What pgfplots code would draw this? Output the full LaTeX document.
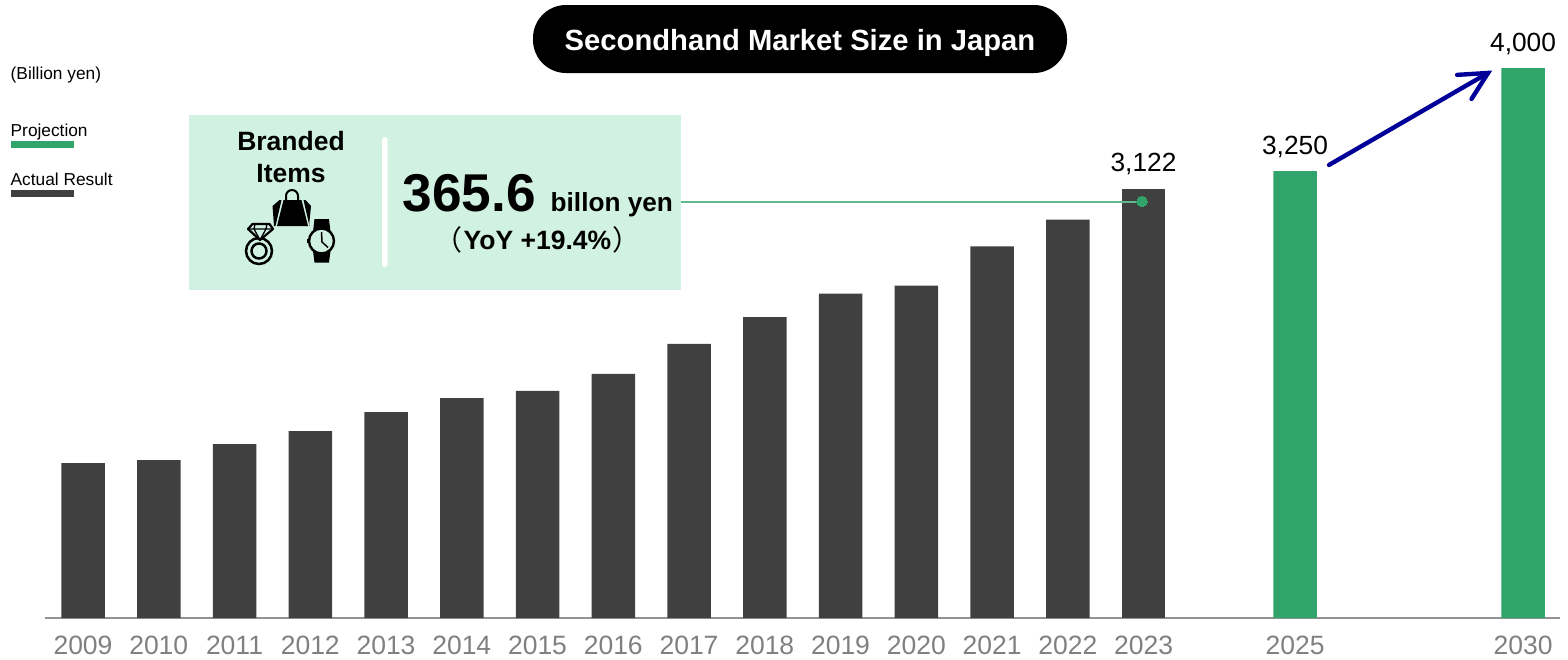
\documentclass[border=0pt]{standalone}
\usepackage{pgfplots}
\usepackage{fontspec}
\pgfplotsset{compat=1.18}
\setmainfont{Liberation Sans}
\newfontfamily\cjk{Noto Sans CJK JP}
\definecolor{barDark}{HTML}{404040}
\definecolor{barGreen}{HTML}{31A46C}
\definecolor{panelGreen}{HTML}{D1F1E3}
\definecolor{leaderGreen}{HTML}{5FB88F}
\definecolor{arrowBlue}{HTML}{000099}
\definecolor{tickGrey}{HTML}{808080}
\newcommand{\fs}[1]{\fontsize{#1}{#1}\selectfont}
\pgfplotstableread{
x y
0 1127
1 1149
2 1265
3 1360
4 1498
5 1600
6 1651
7 1775
8 1993
9 2189
10 2360
11 2418
12 2702
13 2898
}\actualbars
\begin{document}
\begin{tikzpicture}
\useasboundingbox (0,0) rectangle (1568pt,-659pt);
\begin{axis}[
  at={(45pt,-618pt)}, anchor=south west,
  scale only axis, width=1515pt, height=550pt,
  xmin=-0.5017, xmax=19.498, ymin=0, ymax=4000,
  axis x line=bottom, axis y line=none,
  x axis line style={-, draw=tickGrey!85, line width=1.2pt},
  xtick={0,1,2,3,4,5,6,7,8,9,10,11,12,13,14,16,19.01},
  xticklabels={2009,2010,2011,2012,2013,2014,2015,2016,2017,2018,2019,2020,2021,2022,2023,2025,2030},
  tick style={draw=none},
  xticklabel style={font=\fs{26.5}, text=tickGrey, yshift=-10pt},
  clip=false,
  ybar, bar width=43.5pt,
  nodes near coords style={font=\fs{26.3}, text=black, anchor=south, yshift=10pt},
]
\addplot[bar shift=0pt, fill=barDark, draw=none] table[x=x,y=y] {\actualbars};
\addplot[bar shift=0pt, fill=barDark, draw=none, point meta=explicit symbolic, nodes near coords]
  coordinates {(14,3122)[3,122]};
\addplot[bar shift=0pt, fill=barGreen, draw=none, point meta=explicit symbolic, nodes near coords]
  coordinates {(16,3250)[3,250] (19.01,4000)[4,000]};
% callout leader from the panel to the 2023 bar
\addplot[sharp plot, color=leaderGreen, line width=2pt, no markers] coordinates {(7.894,3029) (13.98,3029)};
\addplot[only marks, mark=*, mark size=5.3pt, mark options={fill=barGreen, draw=barGreen, line width=0pt}] coordinates {(13.98,3029)};
% growth arrow towards 2030
\addplot[sharp plot, arrowBlue, line width=4.4pt, no markers, line cap=round] coordinates {(16.449,3295) (18.548,3964)};
\addplot[sharp plot, arrowBlue, line width=4.4pt, no markers, line cap=round, line join=miter] coordinates {(18.14,3950) (18.548,3964) (18.33,3775)};
\end{axis}
\begin{scope}[x=1pt,y=-1pt]
% title
\fill[black, rounded corners=33pt] (533,5) rectangle (1067,73);
\node[text=white, font=\fs{29.2}\bfseries] at (800,43) {Secondhand Market Size in Japan};
% unit and legend
\node[anchor=west, font=\fs{17.3}, inner sep=0pt] at (10.5,75) {(Billion yen)};
\node[anchor=west, font=\fs{17.3}, inner sep=0pt] at (10.5,132) {Projection};
\fill[barGreen] (11,141) rectangle (74,148);
\node[anchor=west, font=\fs{17.3}, inner sep=0pt] at (10.5,179) {Actual Result};
\fill[barDark] (11,190) rectangle (74,197);
% panel
\fill[panelGreen] (189,115) rectangle (681,290);
\fill[white, rounded corners=2.5pt] (382,137) rectangle (387.5,267);
\node[font=\fs{26.5}\bfseries, inner sep=0pt] at (291,141.5) {Branded};
\node[font=\fs{26.5}\bfseries, inner sep=0pt] at (291,174) {Items};
\node[anchor=base west, font=\fs{53.2}\bfseries, inner sep=0pt] at (402.5,211) {365.6};
\node[anchor=base west, font=\fs{26.2}\bfseries, inner sep=0pt] at (550.5,211) {billon yen};
\node[anchor=base, font=\fs{26.5}\bfseries, inner sep=0pt] at (537.5,249.5) {YoY +19.4\%};
\node[anchor=base east, font=\fs{28}\cjk, inner sep=0pt] at (463,250) {（};
\node[anchor=base west, font=\fs{28}\cjk, inner sep=0pt] at (612,250) {）};
% handbag
\fill[black] (283.5,200) -- (301.5,200) -- (308,226) -- (277,226) -- cycle;
\fill[black] (279.5,200) -- (281.5,200) -- (275.5,226) -- (274,226) -- (272.5,206) -- cycle;
\fill[black] (305.5,200) -- (303.5,200) -- (309.5,226) -- (309,226) -- (311,206) -- cycle;
\draw[black, line width=2pt] (286,204) -- (286,196) arc[start angle=180,end angle=360,radius=6] -- (298,204);
% ring
\draw[black, line width=2.5pt] (259,251) circle[radius=13];
\draw[black, line width=2.5pt] (259,251) circle[radius=7.5];
\draw[black, line width=2.2pt, fill=panelGreen, line join=round] (252.5,224) -- (269.5,224) -- (273,229) -- (260,240) -- (248,229) -- cycle;
\draw[black, line width=1.3pt] (248,229) -- (273,229) (255,224) -- (254,229) -- (260,240) -- (266,229) -- (267,224);
% watch
\fill[black] (314.5,219) -- (329,219) -- (330.5,232) -- (313,232) -- cycle;
\fill[black] (313,251) -- (330.5,251) -- (329,262.5) -- (314.5,262.5) -- cycle;
\draw[black, line width=2.4pt, fill=panelGreen] (321.5,241) circle[radius=12.5];
\fill[black] (306.5,239) rectangle (309,243);
\draw[black, line width=1.5pt] (321.5,232) -- (322,242) -- (328,247.5);
\end{scope}
\end{tikzpicture}
\end{document}
